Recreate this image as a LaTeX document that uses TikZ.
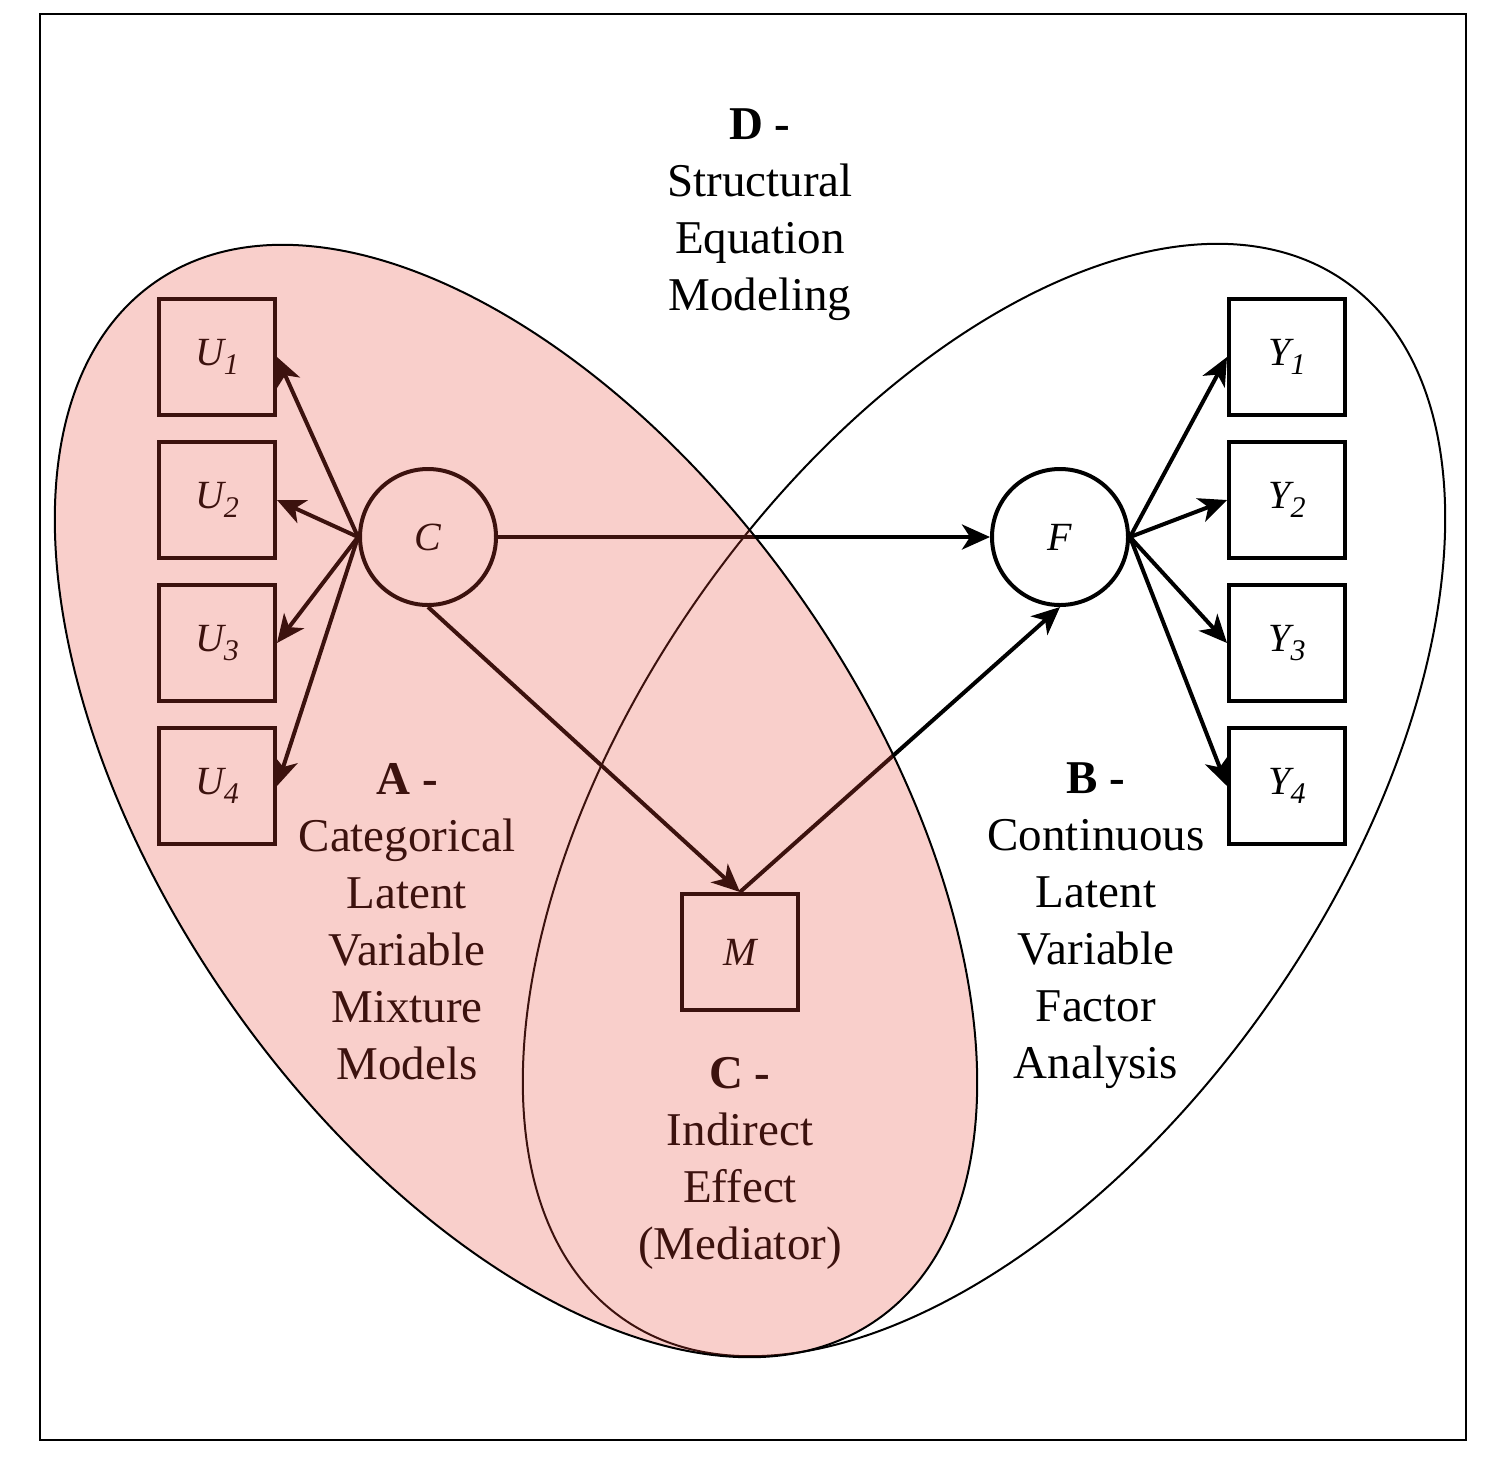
\documentclass[tikz,border=0pt]{standalone}
\usepackage{fontspec}
\setmainfont{Liberation Serif}
\usetikzlibrary{arrows.meta}
\definecolor{pinkov}{RGB}{235,70,55}
\newcommand\lblsub[2]{#1\raisebox{-9pt}{\fontsize{30}{30}\selectfont #2}}
\begin{document}
\begin{tikzpicture}[x=1pt,y=-1pt,
  box/.style={draw, line width=4pt, minimum width=116pt, minimum height=116pt, inner sep=0pt, font=\fontsize{40}{40}\selectfont\itshape},
  lat/.style={draw, circle, line width=4pt, minimum size=136pt, inner sep=0pt, font=\fontsize{40}{40}\selectfont\itshape},
  arr/.style={line width=4pt, -{Stealth[length=28pt,width=25pt,inset=8pt]}},
  lbl/.style={align=center, font=\fontsize{47}{57}\selectfont},
  region/.style={line width=2pt}
]
\useasboundingbox (0,0) rectangle (1496,1460);
\fill[white] (0,0) rectangle (1496,1460);
\draw[line width=2pt] (40,14) rectangle (1466,1440);

% right region (continuous latent variable)
\draw[region, rotate around={55.2:(984,800)}] (984,800) ellipse [x radius=632pt, y radius=350pt];

% nodes
\node[box] (U1) at (217,357) {\lblsub{U}{1}};
\node[box] (U2) at (217,500) {\lblsub{U}{2}};
\node[box] (U3) at (217,643) {\lblsub{U}{3}};
\node[box] (U4) at (217,786) {\lblsub{U}{4}};
\node[box] (Y1) at (1287,357) {\lblsub{Y}{1}};
\node[box] (Y2) at (1287,500) {\lblsub{Y}{2}};
\node[box] (Y3) at (1287,643) {\lblsub{Y}{3}};
\node[box] (Y4) at (1287,786) {\lblsub{Y}{4}};
\node[lat] (C) at (428,537) {C};
\node[lat] (F) at (1060,537) {F};
\node[box] (M) at (740,952) {M};

% connectors
\draw[arr] (C.west) -- (U1.east);
\draw[arr] (C.west) -- (U2.east);
\draw[arr] (C.west) -- (U3.east);
\draw[arr] (C.west) -- (U4.east);
\draw[arr] (F.east) -- (Y1.west);
\draw[arr] (F.east) -- (Y2.west);
\draw[arr] (F.east) -- (Y3.west);
\draw[arr] (F.east) -- (Y4.west);
\draw[arr] (C.east) -- (F.west);
\draw[arr] (C.south) -- (M.north);
\draw[arr] (M.north) -- (F.south);

% labels
\node[lbl] (tD) at (760,215) {\textbf{D -}\\Structural\\Equation\\Modeling};
\node[lbl] (tA) at (407,922) {\textbf{A -}\\Categorical\\Latent\\Variable\\Mixture\\Models};
\node[lbl] (tB) at (1096,926) {\textbf{B -}\\Continuous\\Latent\\Variable\\Factor\\Analysis};
\node[lbl] (tC) at (740,1163) {\textbf{C -}\\Indirect\\Effect\\(Mediator)};

% pink region (categorical latent variable), drawn on top as a tint
\fill[pinkov, fill opacity=0.26, rotate around={-55.2:(516,801)}] (516,801) ellipse [x radius=632pt, y radius=350pt];
\draw[region, rotate around={-55.2:(516,801)}] (516,801) ellipse [x radius=632pt, y radius=350pt];
\end{tikzpicture}
\end{document}
